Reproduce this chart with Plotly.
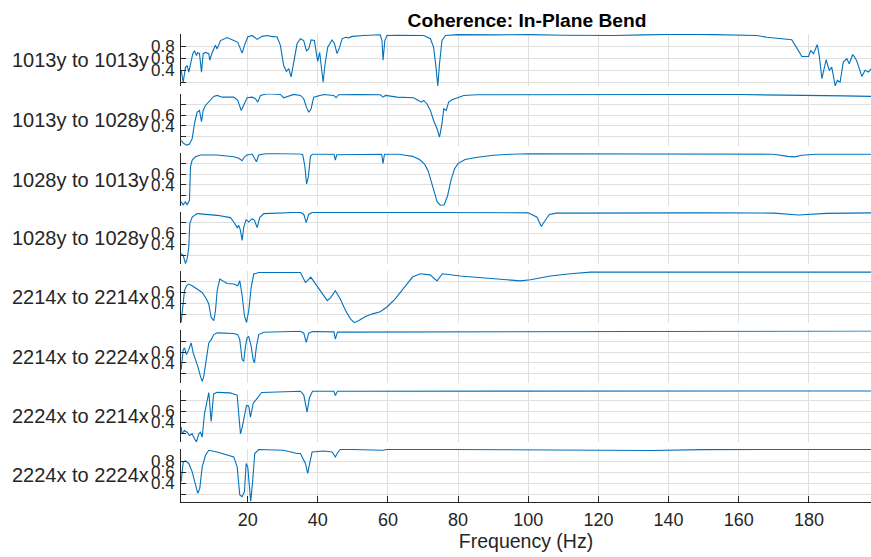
import plotly.graph_objects as go

row_labels = ["1013y to 1013y", "1013y to 1028y", "1028y to 1013y", "1028y to 1028y",
              "2214x to 2214x", "2214x to 2224x", "2224x to 2214x", "2224x to 2224x"]

f1 = [1.05,1.62,2.28,2.76,3.22,3.90,4.36,4.84,5.41,5.78,6.27,6.84,7.32,7.98,8.92,9.20,9.89,10.83,11.31,12.25,13.19,14.16,16.04,17.18,17.95,18.43,19.09,20.03,21.28,22.71,24.13,25.56,26.7,28.4,29.34,30.28,31.05,31.71,32.39,33.13,34.1,35.04,35.98,36.75,37.41,38.09,39.03,39.6,39.97,40.54,41.23,41.51,42.08,42.82,44.07,44.73,45.5,46.24,46.92,47.86,48.8,49.77,53.1,57.8,58.3,58.6,59.1,59.7,62.6,70.2,72.1,73.0,73.7,74.2,74.7,75.4,76.4,79.7,90,100,110,124.3,133,143.3,152.8,160.4,165.2,168.0,171.8,175.1,176.4,178.0,179.9,180.5,181.3,182.4,183.0,183.7,184.9,185.8,186.5,187.5,188.1,188.9,189.8,190.8,191.5,192.5,193.6,195.1,196.0,197.0,197.7]
c1 = [0.40,0.20,0.45,0.48,0.37,0.54,0.68,0.73,0.65,0.70,0.68,0.37,0.68,0.70,0.68,0.57,0.70,0.82,0.76,0.90,0.93,0.95,0.90,0.87,0.76,0.69,0.82,0.96,0.985,0.92,0.97,0.985,0.97,0.96,0.82,0.48,0.38,0.43,0.29,0.51,0.85,0.93,0.90,0.73,0.76,0.91,0.90,0.68,0.55,0.70,0.37,0.20,0.51,0.79,0.91,0.85,0.68,0.79,0.93,0.956,0.946,0.97,0.985,0.997,0.90,0.57,0.90,0.985,0.99,0.985,0.93,0.79,0.45,0.14,0.51,0.90,0.985,1.0,0.995,1.0,0.99,0.985,0.995,1.005,1.0,0.995,0.985,0.956,0.93,0.913,0.79,0.633,0.633,0.734,0.678,0.834,0.621,0.26,0.578,0.40,0.454,0.14,0.231,0.203,0.538,0.595,0.511,0.667,0.566,0.298,0.40,0.37,0.427]

f2 = [1.05,1.62,2.56,3.42,4.19,4.84,5.61,6.27,6.84,7.32,7.98,8.92,10.34,11.31,12.74,16.04,17.18,18.15,18.89,19.86,21.28,22.22,22.88,23.65,25.56,29.34,30.28,31.42,33.13,35.04,35.98,36.75,37.41,38.09,38.83,41.68,44.53,45.21,45.95,51.2,57.8,58.6,59.3,62.6,67.3,68.7,69.5,70.2,71.1,72.1,73.0,74.0,74.7,75.4,75.9,76.6,77.3,78.3,79.7,81.6,85.4,100,117.7,140,160,180.3,190,197.7]
c2 = [0.125,0.08,0.04,0.06,0.16,0.44,0.656,0.688,0.48,0.688,0.781,0.843,0.95,0.968,0.936,0.936,0.875,0.688,0.781,0.925,0.936,0.907,0.843,0.968,1.0,0.987,0.925,0.95,0.987,0.968,0.907,0.75,0.656,0.72,0.936,0.987,0.968,0.925,0.981,0.987,0.981,0.936,0.968,0.936,0.925,0.875,0.843,0.875,0.813,0.688,0.50,0.346,0.19,0.44,0.72,0.688,0.843,0.888,0.925,0.968,0.981,0.985,0.987,0.985,0.985,0.975,0.96,0.95]

f3 = [1.05,1.62,2.28,2.76,3.42,3.70,4.19,5.13,6.55,11.31,16.04,17.46,18.43,19.09,19.86,21.28,21.94,22.51,23.16,25.56,35.04,35.7,36.3,36.8,37.3,37.9,38.5,44.6,45.0,45.4,58.2,58.6,59.0,63,65,67,69,70.5,71.5,72.5,73.3,74,75,76,77,78,79,80,81,82,85,90,95,100,130,170,174,176,178,182,197.7]
c3 = [0.089,0.03,0.089,0.03,0.12,0.737,0.861,0.922,0.954,0.954,0.922,0.893,0.848,0.922,0.954,0.972,0.893,0.83,0.954,0.985,0.972,0.96,0.75,0.42,0.55,0.93,0.97,0.97,0.86,0.96,0.97,0.80,0.97,0.97,0.95,0.93,0.87,0.78,0.65,0.45,0.25,0.09,0.02,0.03,0.2,0.5,0.7,0.80,0.83,0.87,0.91,0.95,0.97,0.98,0.975,0.97,0.93,0.92,0.95,0.97,0.97]

f4 = [1.05,1.62,2.28,2.76,3.22,3.51,4.19,5.61,11.31,15.1,16.04,17.01,17.46,17.95,18.43,18.89,19.57,20.31,21.28,21.94,22.71,23.45,24.59,35.04,36.0,36.7,37.4,38.5,70,100,102.5,103.7,104.6,106,108,120,150,170,177,185,197.7]
c4 = [0.231,0.20,0.048,0.139,0.352,0.782,0.903,0.965,0.934,0.892,0.811,0.708,0.75,0.659,0.475,0.719,0.855,0.811,0.873,0.842,0.708,0.892,0.965,0.99,0.95,0.80,0.95,0.99,0.985,0.98,0.90,0.73,0.82,0.95,0.975,0.98,0.98,0.975,0.94,0.97,0.98]

f5 = [1.05,1.62,1.99,2.56,3.22,4.19,5.61,7.04,8.26,8.92,9.60,10.34,10.83,11.31,12.05,12.74,14.16,16.04,17.18,17.75,18.43,19.09,19.66,20.31,21.0,21.74,23.16,35.04,36.5,38.0,40.0,41.3,42.7,43.6,45.0,46.4,47.9,49.3,50.4,51.6,53.6,55.6,57.8,59.8,62.0,65.0,67.0,69.2,72.0,74.0,75.5,80.6,86.3,92.0,97.7,100.6,106.3,112.0,117.7,197.7]
c5 = [0.055,0.389,0.631,0.722,0.753,0.722,0.662,0.60,0.48,0.389,0.145,0.085,0.267,0.631,0.844,0.813,0.764,0.753,0.722,0.813,0.54,0.176,0.055,0.267,0.691,0.935,0.964,0.964,0.78,0.88,0.70,0.59,0.45,0.50,0.63,0.48,0.27,0.12,0.05,0.085,0.16,0.21,0.25,0.34,0.48,0.72,0.88,0.94,0.92,0.81,0.94,0.90,0.87,0.83,0.81,0.83,0.90,0.94,0.97,0.97]

f6 = [1.05,1.62,1.99,2.56,3.22,3.90,4.47,5.13,5.78,6.55,7.04,7.49,8.26,8.92,9.60,10.34,11.31,16.04,17.18,17.75,18.43,18.89,19.37,19.86,20.31,21.0,21.57,21.94,22.51,23.16,24.59,35.04,36.0,36.7,37.4,38.5,44.6,45.0,45.6,197.7]
c6 = [0.276,0.646,0.678,0.554,0.646,0.77,0.585,0.461,0.337,0.152,0.059,0.152,0.493,0.77,0.831,0.924,0.956,0.943,0.924,0.831,0.461,0.43,0.707,0.863,0.893,0.707,0.461,0.40,0.707,0.924,0.967,0.985,0.95,0.78,0.95,0.98,0.975,0.84,0.97,0.99]

f7 = [1.05,1.33,1.99,2.76,3.42,4.19,4.84,5.41,6.07,6.55,7.04,7.69,8.46,8.92,9.6,10.3,11.3,15.0,17.0,17.95,18.43,19.66,20.3,20.8,21.6,22.71,24.0,35.04,36.0,36.95,37.6,38.5,44.6,45.0,45.6,197.7]
c7 = [0.31,0.189,0.25,0.218,0.158,0.189,0.097,0.04,0.189,0.218,0.127,0.556,0.80,0.947,0.415,0.92,0.95,0.94,0.90,0.19,0.30,0.708,0.70,0.494,0.75,0.85,0.947,0.97,0.90,0.585,0.85,0.97,0.97,0.89,0.97,0.975]

f8 = [1.05,1.62,2.28,3.22,4.19,5.13,5.78,6.35,7.04,7.98,8.92,11.31,14.16,16.04,17.01,17.75,18.43,19.09,19.57,20.03,20.51,20.88,21.45,22.02,23.16,30.28,34.1,35.04,36.47,37.12,37.69,38.38,41.68,44.07,45.01,45.5,46.44,58.8,59.7,120,135,150,197.7]
c8 = [0.427,0.787,0.805,0.759,0.607,0.368,0.218,0.308,0.697,0.908,0.998,0.968,0.908,0.877,0.697,0.19,0.157,0.247,0.759,0.697,0.337,0.07,0.458,0.939,1.011,0.998,0.939,0.939,0.759,0.578,0.759,0.968,0.986,0.968,0.877,0.939,1.016,0.998,1.016,1.01,0.995,1.01,1.012]

freqs = [f1, f2, f3, f4, f5, f6, f7, f8]
cohs = [c1, c2, c3, c4, c5, c6, c7, c8]

y_ranges = [[0.13, 1.01], [0.02, 1.0], [0.013, 0.985], [0.032, 0.995],
            [0.04, 0.995], [0.03, 1.0], [0.037, 1.0], [0.07, 1.02]]
y_ticks = [0.2, 0.4, 0.6, 0.8]
shown_labels = [[0.8, 0.6, 0.4], [0.6, 0.4], [0.6, 0.4], [0.6, 0.4],
                [0.6, 0.4], [0.6, 0.4], [0.6, 0.4], [0.8, 0.6, 0.4]]
x_ticks = [20, 40, 60, 80, 100, 120, 140, 160, 180]
x_range = [1.0, 197.7]

W, H = 871, 557
ML, MR, MT, MB = 181, 0, 33.5, 55
tops = [33.5, 93.3, 153.0, 211.7, 270.5, 330.3, 389.5, 449.0]
row_h = 52.5
plot_h = H - MT - MB
plot_w = W - ML - MR

AX = "#262626"
GRID = "#dfdfdf"
LINE = "#0072BD"
FONT = "Liberation Sans, Arial, sans-serif"

fig = go.Figure()
layout = {}
annotations = []
n = len(freqs)
for i in range(n):
    sfx = "" if i == 0 else str(i + 1)
    top = tops[i]
    bot = top + row_h
    d0 = (H - MB - bot) / plot_h
    d1 = (H - MB - top) / plot_h
    fig.add_trace(go.Scatter(x=freqs[i], y=cohs[i], mode="lines",
                             line=dict(color=LINE, width=1.1),
                             xaxis="x" + sfx, yaxis="y" + sfx,
                             showlegend=False, hoverinfo="skip"))
    last = (i == n - 1)
    xa = dict(range=x_range, anchor="y" + sfx, domain=[0, 1],
              tickvals=x_ticks, showgrid=True, gridcolor=GRID, gridwidth=1,
              zeroline=False, fixedrange=True)
    if i > 0:
        xa["matches"] = "x"
    if last:
        xa.update(showline=True, linecolor=AX, linewidth=1, ticks="inside",
                  ticklen=6, tickcolor=AX, tickwidth=1, showticklabels=True,
                  tickfont=dict(family=FONT, size=18, color=AX),
                  ticklabelstandoff=2,
                  title=dict(text="Frequency (Hz)", standoff=3,
                             font=dict(family=FONT, size=19.5, color=AX)))
    else:
        xa.update(showline=False, ticks="", showticklabels=False)
    ticktext = [("%.1f" % v) if v in shown_labels[i] else "" for v in y_ticks]
    ya = dict(range=y_ranges[i], domain=[d0, d1], anchor="x" + sfx,
              tickvals=y_ticks, ticktext=ticktext, ticks="inside", ticklen=5,
              tickcolor=AX, tickwidth=1, showline=True, linecolor=AX, linewidth=1,
              showgrid=True, gridcolor=GRID, gridwidth=1, zeroline=False,
              tickfont=dict(family=FONT, size=17, color=AX), ticklabelstandoff=2,
              fixedrange=True)
    layout["xaxis" + sfx] = xa
    layout["yaxis" + sfx] = ya
    annotations.append(dict(text=row_labels[i], xref="paper", yref="paper",
                            x=(151 - ML) / plot_w, y=(d0 + d1) / 2,
                            xanchor="right", yanchor="middle", showarrow=False,
                            font=dict(family=FONT, size=20, color=AX)))

fig.update_layout(**layout)
fig.update_layout(
    width=W, height=H,
    margin=dict(l=ML, r=MR, t=MT, b=MB, pad=0),
    paper_bgcolor="white", plot_bgcolor="white",
    title=dict(text="<b>Coherence: In-Plane Bend</b>", x=527 / W,
               xanchor="center", y=1 - 20.5 / H, yanchor="middle",
               xref="container", yref="container",
               font=dict(family=FONT, size=19.2, color="#000000")),
    annotations=annotations,
    font=dict(family=FONT),
)

fig.write_html("out.html")
